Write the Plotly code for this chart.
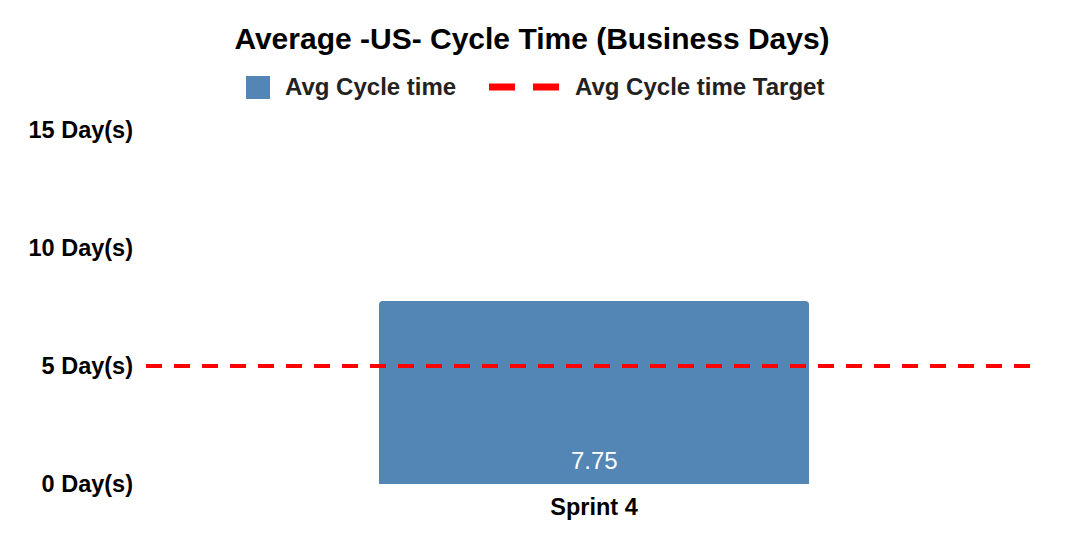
import plotly.graph_objects as go

# chart data
sprints = ["Sprint 4"]
avg_cycle_time = [7.75]
cycle_time_target = [5, 5]
y_ticks = [0, 5, 10, 15]
y_tick_labels = [f"{t} Day(s)" for t in y_ticks]

FONT = "Liberation Sans, Arial, sans-serif"
BAR_COLOR = "#5386b4"
TARGET_COLOR = "#ff0000"

# page body has an 8px margin, so the figure is a bit smaller than the window
W, H = 1062, 540
PLOT_L, PLOT_R, PLOT_T, PLOT_B = 138, 1034, 122, 476

fig = go.Figure()

fig.add_trace(go.Bar(
    x=sprints,
    y=avg_cycle_time,
    name="Avg Cycle time",
    width=0.48,
    marker=dict(color=BAR_COLOR, cornerradius=4, line=dict(width=0)),
    showlegend=False,
    hoverinfo="x+y",
))

# target line spans the whole plot width on a hidden overlay axis
fig.add_trace(go.Scatter(
    x=[0, 1],
    y=cycle_time_target,
    xaxis="x2",
    mode="lines",
    name="Avg Cycle time Target",
    line=dict(color=TARGET_COLOR, width=4, dash="16px,12px"),
    showlegend=False,
    hoverinfo="y",
))

# value labels near the bottom of the bars
for s, v in zip(sprints, avg_cycle_time):
    fig.add_annotation(
        x=s, y=0, xref="x", yref="y",
        text=f"{v}", showarrow=False,
        yanchor="bottom", yshift=8,
        font=dict(family=FONT, size=24, color="white"),
    )

# legend drawn by hand so the symbols match the original sizes
def px_x(p):
    return (p - 8 - PLOT_L) / (PLOT_R - PLOT_L)

def px_y(p):
    return (PLOT_B - (p - 8)) / (PLOT_B - PLOT_T)

fig.add_shape(type="rect", xref="paper", yref="paper",
              x0=px_x(246), x1=px_x(270), y0=px_y(99), y1=px_y(76),
              fillcolor=BAR_COLOR, line=dict(width=0))
fig.add_shape(type="line", xref="paper", yref="paper",
              x0=px_x(489), x1=px_x(559), y0=px_y(87), y1=px_y(87),
              line=dict(color=TARGET_COLOR, width=7, dash="26px,18px"))
for label, xpos in [("Avg Cycle time", 283), ("Avg Cycle time Target", 573)]:
    fig.add_annotation(
        x=px_x(xpos), y=px_y(87), xref="paper", yref="paper",
        text=f"<b>{label}</b>", showarrow=False,
        xanchor="left", yanchor="middle",
        font=dict(family=FONT, size=24, color="#222222"),
    )

fig.update_layout(
    width=W,
    height=H,
    margin=dict(l=PLOT_L, r=W - PLOT_R, t=PLOT_T, b=H - PLOT_B),
    paper_bgcolor="white",
    plot_bgcolor="white",
    font=dict(family=FONT, color="black"),
    title=dict(
        text="<b>Average -US- Cycle Time (Business Days)</b>",
        x=524 / W, xanchor="center",
        y=1 - 30.5 / H, yanchor="middle", yref="container",
        font=dict(family=FONT, size=30, color="black"),
    ),
    showlegend=False,
    xaxis=dict(
        range=[-0.5, 0.5],
        showgrid=False, zeroline=False, showline=False,
        tickfont=dict(family=FONT, size=23.5, color="black", weight="bold"),
        ticklabelstandoff=6,
    ),
    xaxis2=dict(range=[0, 1], overlaying="x", visible=False),
    yaxis=dict(
        range=[0, 15],
        tickmode="array",
        tickvals=y_ticks,
        ticktext=y_tick_labels,
        showgrid=False, zeroline=False, showline=False,
        tickfont=dict(family=FONT, size=23.5, color="black", weight="bold"),
        ticklabelstandoff=12,
    ),
)

fig.write_html("out.html")
